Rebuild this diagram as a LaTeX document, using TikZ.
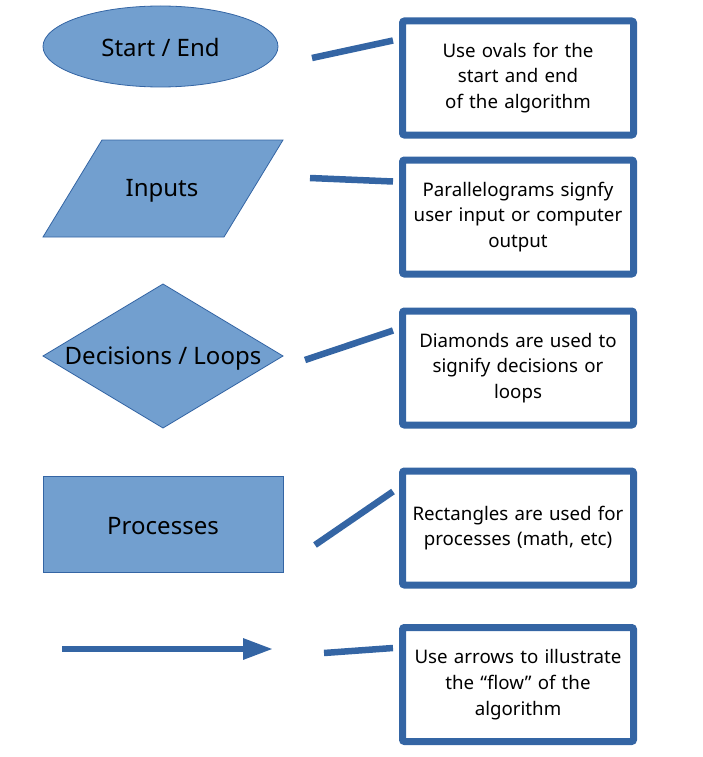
\documentclass[tikz,border=0pt]{standalone}
\usepackage{fontspec}
\setmainfont{Noto Sans}
\usetikzlibrary{shapes.geometric,arrows.meta}
\definecolor{flowfill}{HTML}{729FCF}
\definecolor{flowline}{HTML}{3465A4}
\tikzset{
	shapebox/.style={fill=flowfill,draw=flowline,line width=0.8pt,inner sep=0pt},
	shapetext/.style={font=\fontsize{24}{28}\selectfont},
	notebox/.style={draw=flowline,line width=7pt,rounded corners=2pt,outer sep=0pt,minimum width=231pt,minimum height=114pt,text width=224pt,align=center,font=\fontsize{18.7}{25.8}\selectfont},
	connector/.style={draw=flowline,line width=6.5pt}
}

\begin{document}
\begin{tikzpicture}[x=1pt,y=-1pt]
			\useasboundingbox (0,0) rectangle (702,757);
			% symbols on the left
			\node[shapebox,ellipse,minimum width=235pt,minimum height=81pt] (term) at (160.5,46.5) {};
			\node[shapetext] (termtext) at (160.5,48) {Start / End};
			\filldraw[shapebox] (102,140) -- (283,140) -- (224,237) -- (43,237) -- cycle;
			\node[shapetext] (inputs) at (162,190.5) {Inputs};
			\filldraw[shapebox] (163,284) -- (283,356) -- (163,428) -- (43,356) -- cycle;
			\node[shapetext] (decision) at (163,358.5) {Decisions / Loops};
			\node[shapebox,minimum width=240pt,minimum height=96pt] (process) at (163,524) {};
			\node[shapetext] (proctext) at (163,526) {Processes};
			\coordinate (arrS) at (62,649);
			\coordinate (arrE) at (273,649);
			\draw[connector,line width=6pt,-{Triangle[length=30pt,width=20pt]}] (arrS) -- (arrE);
			% notes on the right
			\node[notebox] (note1) at (518,78) {Use ovals for the\\ start and end\\ of the algorithm};
			\node[notebox] (note2) at (518,217) {Parallelograms signfy\\ user input or computer\\ output};
			\node[notebox] (note3) at (518,368) {Diamonds are used to\\ signify decisions or\\ loops};
			\node[notebox] (note4) at (518,528) {Rectangles are used for\\ processes (math, etc)};
			\node[notebox] (note5) at (518,684.5) {Use arrows to illustrate\\ the “flow” of the\\ algorithm};
			% callout lines
			\coordinate (s1) at (312,58);
			\coordinate (s2) at (310,178);
			\coordinate (s3) at (305,360);
			\coordinate (s4) at (315,545);
			\coordinate (s5) at (324,653);
			\path[connector]
			(s1) edge ([shift={(-9.5,19.5)}]note1.north west)
			(s2) edge ([shift={(-9.5,21.5)}]note2.north west)
			(s3) edge ([shift={(-9.5,19.5)}]note3.north west)
			(s4) edge ([shift={(-9.5,20.5)}]note4.north west)
			(s5) edge ([shift={(-9.5,20.5)}]note5.north west);
		\end{tikzpicture}
\end{document}
